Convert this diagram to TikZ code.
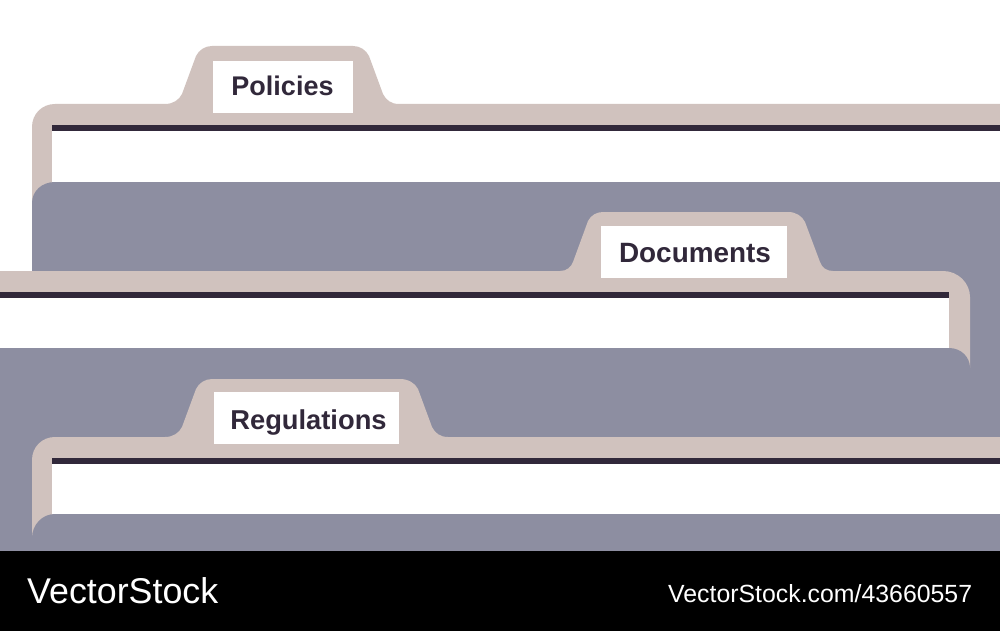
\documentclass[tikz,border=0pt]{standalone}
\usepackage{fontspec}
\setmainfont{Liberation Sans}
\definecolor{tan}{HTML}{D0C2BE}
\definecolor{slate}{HTML}{8D8EA1}
\definecolor{ink}{HTML}{31283A}
\tikzset{
  tanshape/.style={fill=tan,draw=none},
  slateshape/.style={fill=slate,draw=none},
  inkbar/.style={fill=ink,draw=none},
  paper/.style={fill=white,draw=none},
  tablabel/.style={fill=white,text=ink,inner sep=0pt,anchor=base,text depth=17pt,text height=35pt,font=\bfseries\fontsize{27}{27}\selectfont},
  mark text/.style={text=white,inner sep=0pt,anchor=base west}
}
\begin{document}
\begin{tikzpicture}[x=1pt,y=-1pt]
\useasboundingbox (0,0) rectangle (1000,631);
\fill[white] (0,0) rectangle (1000,631);
% folder 1
\path[tanshape] (32,210) -- (32,127) .. controls (32,114) and (42,104) .. (55,104) -- (165,104)
  .. controls (173,104) and (179,100) .. (182,94) -- (196,56) .. controls (199,50) and (205,46) .. (212,46)
  -- (353,46) .. controls (360,46) and (366,50) .. (369,56) -- (383,94)
  .. controls (386,100) and (391,104) .. (399,104) -- (1000,104) -- (1000,210) -- cycle;
\path[paper] (52,131) rectangle (1000,182);
\path[inkbar] (52,125) rectangle (1000,131);
\path[slateshape] (32,551) -- (32,203) .. controls (32,191) and (42,182) .. (55,182) -- (1000,182) -- (1000,551) -- cycle;
\node[tablabel,minimum width=140pt] (policies) at (283,96) {\kern-1pt Policies};
% folder 2
\path[tanshape] (0,368) -- (0,271) -- (560,271) .. controls (567,271) and (571,267) .. (573,262) -- (588,221)
  .. controls (591,215) and (597,212) .. (603,212) -- (788,212) .. controls (796,212) and (802,216) .. (805,222)
  -- (820,262) .. controls (822,268) and (827,271) .. (833,271) -- (943,271)
  .. controls (958,271) and (970,283) .. (970,297) -- (970,368) -- cycle;
\path[paper] (0,298) rectangle (949,348);
\path[inkbar] (0,292) rectangle (949,298);
\path[slateshape] (0,551) -- (0,348) -- (949,348) .. controls (961,348) and (970,357) .. (970,368) -- (970,551) -- cycle;
\node[tablabel,minimum width=186pt,text height=36pt,text depth=16pt,font=\bfseries\fontsize{27.9}{27.9}\selectfont] (documents) at (694,262) {\kern2pt Documents};
% folder 3
\path[tanshape] (32,540) -- (32,460) .. controls (32,447) and (42,437) .. (55,437) -- (165,437)
  .. controls (173,437) and (179,433) .. (182,427) -- (196,389) .. controls (199,383) and (205,379) .. (212,379)
  -- (400,379) .. controls (408,379) and (415,383) .. (418,389) -- (432,427)
  .. controls (435,433) and (440,437) .. (448,437) -- (1000,437) -- (1000,540) -- cycle;
\path[paper] (52,464) rectangle (1000,514);
\path[inkbar] (52,458) rectangle (1000,464);
\path[slateshape] (32,551) -- (32,538) .. controls (32,525) and (42,514) .. (55,514) -- (1000,514) -- (1000,551) -- cycle;
\node[tablabel,minimum width=185pt,text height=37pt,text depth=15pt,font=\bfseries\fontsize{27.3}{27.3}\selectfont] (regulations) at (306.5,429) {\kern4pt Regulations};
% footer band
\fill[black] (0,551) rectangle (1000,631);
\node[mark text,font=\fontsize{35.8}{35.8}\selectfont] (brand) at (27,603) {VectorStock};
\node[mark text,font=\fontsize{24.85}{24.85}\selectfont] (url) at (668,602) {VectorStock.com/43660557};
\end{tikzpicture}
\end{document}
